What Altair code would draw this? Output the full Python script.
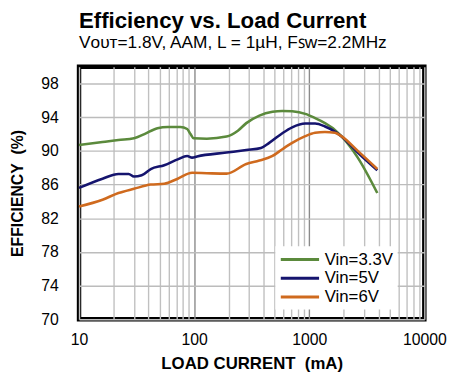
import altair as alt
import pandas as pd

series_names = ["Vin=3.3V", "Vin=5V", "Vin=6V"]
series_colors = ["#5b8a3c", "#15146e", "#cf6a1e"]

green_i = [10, 16, 22, 30, 37, 48, 59, 76, 87, 93, 99, 129, 191, 240, 284, 369, 480, 584, 711, 924, 1125, 1370, 1668, 1900, 2640, 3900]
green_e = [90.7, 91.05, 91.3, 91.5, 92.0, 92.7, 92.85, 92.85, 92.6, 92.0, 91.5, 91.45, 91.7, 92.4, 93.3, 94.2, 94.65, 94.75, 94.7, 94.4, 93.9, 93.3, 92.5, 91.75, 89.2, 85.0]

blue_i = [10, 16, 22, 27, 30, 35, 42, 55, 72, 87, 96, 106, 191, 284, 381, 449, 584, 711, 924, 1125, 1370, 1668, 1900, 2640, 3900]
blue_e = [85.6, 86.7, 87.25, 87.25, 86.95, 87.1, 87.85, 88.3, 89.0, 89.4, 89.2, 89.35, 89.8, 90.1, 90.35, 90.95, 92.1, 92.8, 93.25, 93.25, 92.9, 92.3, 91.75, 89.8, 87.7]

orange_i = [10, 16, 22, 30, 42, 55, 72, 96, 129, 191, 284, 369, 480, 584, 711, 924, 1125, 1370, 1668, 1900, 2640, 3900]
orange_e = [83.4, 84.2, 85.0, 85.5, 86.0, 86.1, 86.7, 87.4, 87.35, 87.3, 88.45, 88.85, 89.4, 90.2, 90.95, 91.75, 92.15, 92.25, 92.15, 91.75, 90.0, 87.85]

x_grid = [10, 20, 30, 40, 50, 60, 70, 80, 90,
          100, 200, 300, 400, 500, 600, 700, 800, 900,
          1000, 2000, 3000, 4000, 5000, 6000, 7000, 8000, 9000, 10000]
y_ticks = [70, 74, 78, 82, 86, 90, 94, 98]

rows = []
for name, xs, ys in [(series_names[0], green_i, green_e),
                     (series_names[1], blue_i, blue_e),
                     (series_names[2], orange_i, orange_e)]:
    for k, (a, b) in enumerate(zip(xs, ys)):
        rows.append({"series": name, "I": a, "E": b, "order": k})
df = pd.DataFrame(rows)

FONT = "Liberation Sans"

chart = alt.Chart(df).mark_line(strokeWidth=2.6, interpolate="monotone").encode(
    x=alt.X("I:Q",
            scale=alt.Scale(type="log", domain=[10, 10000], nice=False),
            axis=alt.Axis(values=x_grid,
                          labelExpr="(datum.value==10||datum.value==100||datum.value==1000||datum.value==10000) ? format(datum.value,'d') : ''",
                          grid=True,
                          gridColor={"condition": {"test": "datum.value==100||datum.value==1000", "value": "#8a8a8a"}, "value": "#c0c0c0"},
                          gridWidth=1.4,
                          ticks=False, domain=False,
                          labelFontSize=16, labelPadding=13, labelColor="black",
                          labelFlush=False, labelOverlap=False,
                          title="LOAD CURRENT\u00a0\u00a0(mA)", titleFontSize=17,
                          titleFontWeight="bold", titleColor="black", titlePadding=8)),
    y=alt.Y("E:Q",
            scale=alt.Scale(domain=[70, 100], nice=False, zero=False),
            axis=alt.Axis(values=y_ticks, grid=True, gridColor="#bcbcbc", gridWidth=1.4,
                          ticks=False, domain=False,
                          labelFontSize=16, labelPadding=21, labelColor="black",
                          title="EFFICIENCY\u00a0\u00a0(%)", titleFontSize=16,
                          titleFontWeight="bold", titleColor="black", titlePadding=15)),
    color=alt.Color("series:N",
                    scale=alt.Scale(domain=series_names, range=series_colors),
                    legend=alt.Legend(title=None, orient="none", legendX=199, legendY=182,
                                      fillColor="white", padding=4,
                                      labelFontSize=17, labelColor="black", labelFont=FONT,
                                      symbolType="M-1,0H3.85", symbolSize=256,
                                      symbolStrokeWidth=3, labelOffset=27, rowPadding=1)),
    order="order:Q",
).properties(
    width=350, height=256,
    title=alt.Title(text="Efficiency vs. Load Current",
                    subtitle="V\u1d0f\u1d1c\u1d1b=1.8V, AAM, L = 1\u00b5H, F\ua731\u1d21=2.2MHz",
                    anchor="start", frame="group", fontSize=22.5, fontWeight="bold",
                    font=FONT, subtitleFont=FONT, subtitleFontSize=17.5,
                    color="black", subtitleColor="black", subtitlePadding=2, offset=15),
    autosize=alt.AutoSizeParams(type="none"),
    padding={"left": 72, "top": 57, "right": 25, "bottom": 58},
).configure(font=FONT).configure_view(stroke="black", strokeWidth=4.5)

chart.save("out.html", embed_options={"renderer": "svg", "actions": False})
